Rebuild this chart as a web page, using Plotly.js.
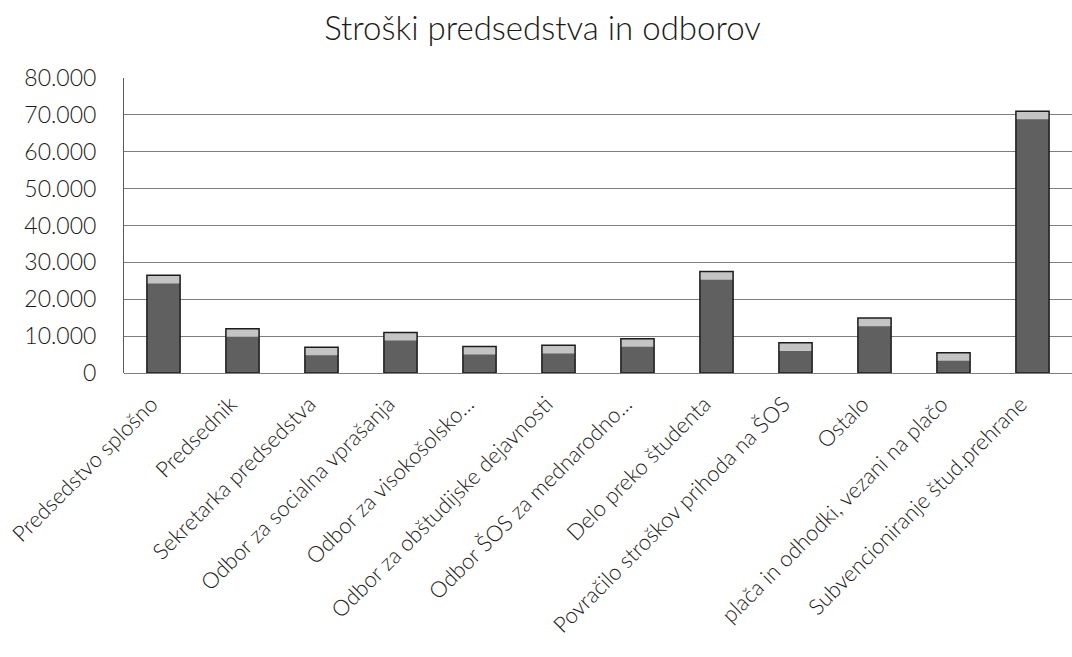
<!DOCTYPE html>
<html>
<head>
<meta charset="utf-8">
<script src="https://cdn.plot.ly/plotly-3.0.1.min.js"></script>
<style>html,body{margin:0;padding:0;background:#fff;}#chart{width:1072px;height:657px;}</style>
</head>
<body>
<div id="chart"></div>
<script>
const categories = [
  "Predsedstvo splošno",
  "Predsednik",
  "Sekretarka predsedstva",
  "Odbor za socialna vprašanja",
  "Odbor za visokošolsko...",
  "Odbor za obštudijske dejavnosti",
  "Odbor ŠOS za mednarodno...",
  "Delo preko študenta",
  "Povračilo stroškov prihoda na ŠOS",
  "Ostalo",
  "plača in odhodki, vezani na plačo",
  "Subvencioniranje štud.prehrane"
];
const values = [26500, 12000, 7000, 11000, 7200, 7500, 9300, 27500, 8200, 14900, 5500, 71000];
const tickValues = [0, 10000, 20000, 30000, 40000, 50000, 60000, 70000, 80000];
const tickLabels = ["0", "10.000", "20.000", "30.000", "40.000", "50.000", "60.000", "70.000", "80.000"];

const CAP = 2200;
const traces = [
  {
    type: "bar", x: categories, y: values,
    marker: {color: "#606060", line: {width: 0}},
    hoverinfo: "x+y"
  },
  {
    type: "bar", x: categories, y: values.map(() => CAP), base: values.map(v => v - CAP),
    marker: {color: "#c4c4c4", line: {width: 0}},
    hoverinfo: "skip"
  },
  {
    type: "bar", x: categories, y: values,
    marker: {color: "rgba(0,0,0,0)", line: {color: "#1c1c1c", width: 1.5}},
    hoverinfo: "skip"
  }
];

const layout = {
  width: 1072, height: 657,
  margin: {l: 124, r: 0, t: 78, b: 284},
  paper_bgcolor: "#ffffff", plot_bgcolor: "#ffffff",
  showlegend: false,
  barmode: "overlay",
  bargap: 0.58,
  font: {family: "Lato, 'Open Sans', sans-serif", color: "#1a1a1a", weight: 300},
  title: {text: "Stroški predsedstva in odborov", font: {size: 33, color: "#1a1a1a", weight: 300},
          x: 0.506, xanchor: "center", y: 0.957, yanchor: "middle"},
  xaxis: {
    tickangle: -45, tickfont: {size: 22, color: "#1a1a1a", weight: 300},
    ticklabelstandoff: 13, ticklabelshift: -12,
    showline: false, ticks: "", showgrid: false, zeroline: false
  },
  yaxis: {
    range: [0, 80000], tickvals: tickValues, ticktext: tickLabels,
    tickfont: {size: 23, color: "#1a1a1a", weight: 300},
    showgrid: true, gridcolor: "#7e7e7e", gridwidth: 1,
    zeroline: true, zerolinecolor: "#7e7e7e", zerolinewidth: 1,
    showline: true, linecolor: "#5a5a5a", linewidth: 1,
    ticks: "", ticklabelstandoff: 22
  }
};

Plotly.newPlot("chart", traces, layout, {displayModeBar: false, staticPlot: true});
</script>
</body>
</html>
